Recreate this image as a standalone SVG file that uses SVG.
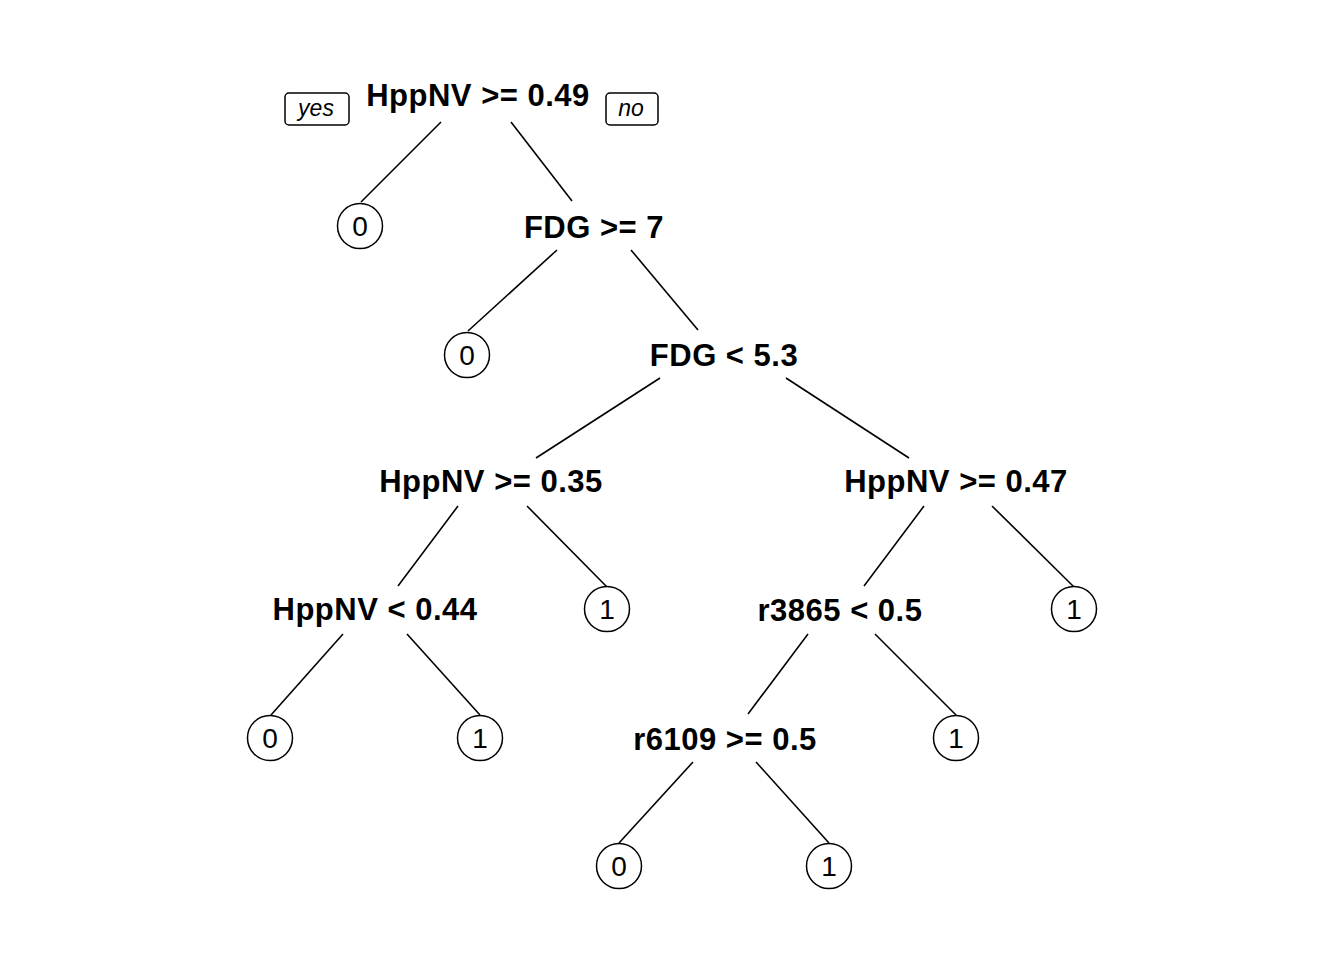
<svg xmlns="http://www.w3.org/2000/svg" width="1344" height="960" viewBox="0 0 1344 960">
<style>
.split{font-family:"Liberation Sans",Arial,sans-serif;font-weight:bold;font-size:31px;letter-spacing:0.5px;text-anchor:middle;fill:#000}
.leaf circle{fill:#fff;stroke:#000;stroke-width:1.5}
.leaf text{font-family:"Liberation Sans",Arial,sans-serif;font-size:28px;text-anchor:middle;fill:#000}
.edges line{stroke:#000;stroke-width:1.6}
.yn rect{fill:#fff;stroke:#000;stroke-width:1.5}
.yn text{font-family:"Liberation Sans",Arial,sans-serif;font-style:italic;font-size:23px;text-anchor:middle;fill:#000}
</style>
<rect width="1344" height="960" fill="#fff"/>
<g class="edges" id="connectors">
<line x1="441" y1="122" x2="361" y2="202"/>
<line x1="511" y1="122" x2="572" y2="201"/>
<line x1="557" y1="250" x2="468" y2="331"/>
<line x1="631" y1="250" x2="698" y2="330"/>
<line x1="660" y1="378" x2="536" y2="458"/>
<line x1="786" y1="378" x2="909" y2="458"/>
<line x1="458" y1="506" x2="398" y2="586"/>
<line x1="527" y1="506" x2="607" y2="587"/>
<line x1="924" y1="506" x2="864" y2="586"/>
<line x1="992" y1="506" x2="1074" y2="587"/>
<line x1="343" y1="634" x2="271" y2="715"/>
<line x1="407" y1="634" x2="480" y2="715"/>
<line x1="808" y1="634" x2="748" y2="714"/>
<line x1="875" y1="634" x2="956" y2="715"/>
<line x1="693" y1="762" x2="619" y2="843"/>
<line x1="756" y1="762" x2="829" y2="843"/>
</g>
<g class="yn" id="yes-label"><rect x="285" y="93" width="64" height="32" rx="4"/><text x="316" y="116">yes</text></g>
<g class="yn" id="no-label"><rect x="606" y="93" width="52" height="32" rx="4"/><text x="631" y="116">no</text></g>
<g id="n1"><text class="split" x="478" y="106">HppNV &gt;= 0.49</text></g>
<g id="n2" class="leaf"><circle cx="360" cy="226" r="22.5"/><text x="360" y="236">0</text></g>
<g id="n3"><text class="split" x="594" y="238">FDG &gt;= 7</text></g>
<g id="n6" class="leaf"><circle cx="467" cy="355" r="22.5"/><text x="467" y="365">0</text></g>
<g id="n7"><text class="split" x="724" y="366">FDG &lt; 5.3</text></g>
<g id="n14"><text class="split" x="491" y="492">HppNV &gt;= 0.35</text></g>
<g id="n15"><text class="split" x="956" y="492">HppNV &gt;= 0.47</text></g>
<g id="n28"><text class="split" x="375" y="620">HppNV &lt; 0.44</text></g>
<g id="n29" class="leaf"><circle cx="607" cy="609" r="22.5"/><text x="607" y="619">1</text></g>
<g id="n30"><text class="split" x="840" y="621">r3865 &lt; 0.5</text></g>
<g id="n31" class="leaf"><circle cx="1074" cy="609" r="22.5"/><text x="1074" y="619">1</text></g>
<g id="n56" class="leaf"><circle cx="270" cy="738" r="22.5"/><text x="270" y="748">0</text></g>
<g id="n57" class="leaf"><circle cx="480" cy="738" r="22.5"/><text x="480" y="748">1</text></g>
<g id="n60"><text class="split" x="725" y="750">r6109 &gt;= 0.5</text></g>
<g id="n61" class="leaf"><circle cx="956" cy="738" r="22.5"/><text x="956" y="748">1</text></g>
<g id="n120" class="leaf"><circle cx="619" cy="866" r="22.5"/><text x="619" y="876">0</text></g>
<g id="n121" class="leaf"><circle cx="829" cy="866" r="22.5"/><text x="829" y="876">1</text></g>
</svg>
